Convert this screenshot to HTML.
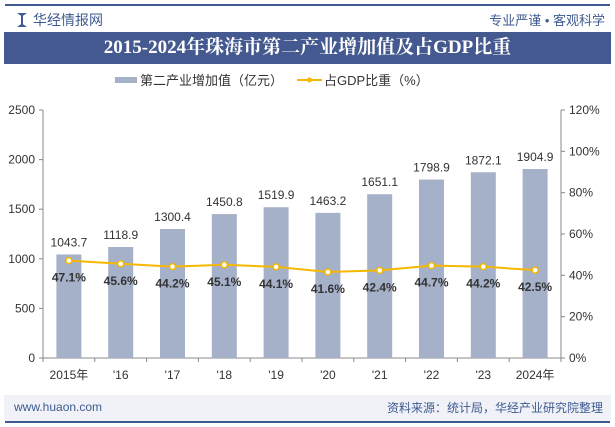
<!DOCTYPE html>
<html><head><meta charset="utf-8"><style>
body{margin:0;width:615px;height:427px;background:#fff;font-family:"Liberation Sans","Noto Sans CJK SC",sans-serif;overflow:hidden;position:relative}
.a{position:absolute}
</style></head><body>
<div class="a" style="left:5px;top:4px;width:605px;height:2px;background:#3e5a91"></div>
<div class="a" style="left:17px;top:13px;width:10px;height:14px;background:#3e5a91;clip-path:polygon(0 0,40% 20%,40% 80%,0 100%,100% 100%,60% 80%,60% 20%,100% 0)"></div>
<div class="a" style="left:33px;top:10px;font-size:14px;color:#3e5a91">华经情报网</div>
<div class="a" style="right:10px;top:10px;font-size:13px;color:#3e5a91">专业严谨 • 客观科学</div>
<div class="a" style="left:4px;top:32px;width:607px;height:32px;background:#44598f;color:#fff;font-family:'Liberation Serif','Noto Serif CJK SC',serif;font-weight:bold;font-size:19px;text-align:center;line-height:32px">2015-2024年珠海市第二产业增加值及占GDP比重</div>
<div class="a" style="left:4px;top:395px;width:607px;height:26px;background:#f0f2f7"></div>
<div class="a" style="left:14px;top:400px;font-size:12px;color:#3e5a91">www.huaon.com</div>
<div class="a" style="right:12px;top:399px;font-size:12px;color:#3e5a91">资料来源：统计局，华经产业研究院整理</div>
<div class="a" style="left:5px;top:421px;width:605px;height:2px;background:#3e5a91"></div>
<svg class="a" style="left:0;top:0" width="615" height="427" id="chart"></svg>
<script>
const categories=["2015年","'16","'17","'18","'19","'20","'21","'22","'23","2024年"];
const values=[1043.7,1118.9,1300.4,1450.8,1519.9,1463.2,1651.1,1798.9,1872.1,1904.9];
const shares=[47.1,45.6,44.2,45.1,44.1,41.6,42.4,44.7,44.2,42.5];
const leftTicks=[0,500,1000,1500,2000,2500];
const rightTicks=[0,20,40,60,80,100,120];
const NS="http://www.w3.org/2000/svg",svg=document.getElementById('chart');
const L=43,R=561,T=110,B=358;
const yL=v=>B-(v/2500)*(B-T), yR=v=>B-(v/120)*(B-T);
const bw=(R-L)/categories.length, xc=i=>L+bw*(i+0.5);
function mk(t,a,txt){const e=document.createElementNS(NS,t);for(const k in a)e.setAttribute(k,a[k]);if(txt!==undefined)e.textContent=txt;svg.appendChild(e);return e;}
let e=mk('rect',{x:115,y:77,width:22,height:6,fill:'#a5b0c9'});

e=mk('text',{x:140,y:85,'font-size':13,fill:'#333'},'第二产业增加值（亿元）');

e=mk('line',{x1:297,y1:80,x2:322,y2:80,stroke:'#f5b800','stroke-width':2});

e=mk('circle',{cx:309.5,cy:80,r:2.5,fill:'#f5b800'});

e=mk('text',{x:324,y:85,'font-size':13,fill:'#333'},'占GDP比重（%）');

e=mk('path',{d:`M${L},${T}V${B}H${R}V${T}`,fill:'none',stroke:'#888','stroke-width':1});

leftTicks.forEach(t=>{const y=yL(t);mk('line',{x1:L-4,y1:y,x2:L,y2:y,stroke:'#888'});
e=mk('text',{x:L-8,y:y+4,'font-size':12,fill:'#333','text-anchor':'end'},t);
});
rightTicks.forEach(t=>{const y=yR(t);mk('line',{x1:R,y1:y,x2:R+4,y2:y,stroke:'#888'});
e=mk('text',{x:R+8,y:y+4,'font-size':12,fill:'#333'},t+'%');
});
for(let i=0;i<=categories.length;i++){mk('line',{x1:L+bw*i,y1:B,x2:L+bw*i,y2:B+4,stroke:'#888'});}
categories.forEach((c,i)=>{
e=mk('rect',{x:xc(i)-12.5,y:yL(values[i]),width:25,height:B-yL(values[i]),fill:'#a5b0c9'});

e=mk('text',{x:xc(i),y:yL(values[i])-8,'font-size':12,fill:'#333','text-anchor':'middle'},values[i].toFixed(1));

e=mk('text',{x:xc(i),y:B+21,'font-size':12,fill:'#333','text-anchor':'middle'},c);

});
e=mk('polyline',{points:shares.map((s,i)=>xc(i)+','+yR(s)).join(' '),fill:'none',stroke:'#f5b800','stroke-width':2});

shares.forEach((s,i)=>{
e=mk('circle',{cx:xc(i),cy:yR(s),r:3,fill:'#fff',stroke:'#f5b800','stroke-width':1.5});

e=mk('text',{x:xc(i),y:yR(s)+21,'font-size':12,'font-weight':'bold',fill:'#333','text-anchor':'middle'},s.toFixed(1)+'%');

});
</script>
</body></html>
